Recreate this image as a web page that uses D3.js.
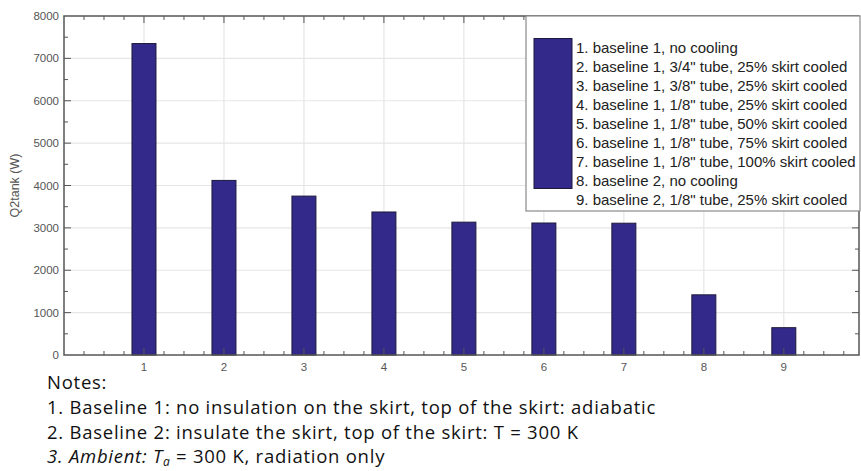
<!DOCTYPE html>
<html>
<head>
<meta charset="utf-8">
<script src="https://cdn.jsdelivr.net/npm/d3@7"></script>
<style>
  body { margin: 0; background: #fff; }
  svg { display: block; }
  .tick-label { font-family: "Liberation Sans", Arial, sans-serif; font-size: 11.5px; fill: #555; }
  .legend-text { font-family: "Liberation Sans", Arial, sans-serif; font-size: 15px; fill: #222; }
  .note { font-family: "Open Sans", sans-serif; font-size: 18.5px; letter-spacing: 0.75px; fill: #111; }
</style>
</head>
<body>
<div id="chart"></div>
<script>
// data
const cases = [1, 2, 3, 4, 5, 6, 7, 8, 9];
const q2tank = [7350, 4120, 3750, 3375, 3135, 3115, 3110, 1420, 645];
const legendLabels = [
  '1. baseline 1, no cooling',
  '2. baseline 1, 3/4" tube, 25% skirt cooled',
  '3. baseline 1, 3/8" tube, 25% skirt cooled',
  '4. baseline 1, 1/8" tube, 25% skirt cooled',
  '5. baseline 1, 1/8" tube, 50% skirt cooled',
  '6. baseline 1, 1/8" tube, 75% skirt cooled',
  '7. baseline 1, 1/8" tube, 100% skirt cooled',
  '8. baseline 2, no cooling',
  '9. baseline 2, 1/8" tube, 25% skirt cooled'
];
const yTicks = [0, 1000, 2000, 3000, 4000, 5000, 6000, 7000, 8000];
const notes = [
  'Notes:',
  '1. Baseline 1: no insulation on the skirt, top of the skirt: adiabatic',
  '2. Baseline 2: insulate the skirt, top of the skirt: T = 300 K'
];

const width = 861, height = 471,
  plotLeft = 64, plotRight = 859, plotTop = 16, plotBottom = 355,
  barColor = '#33298a', axisColor = '#555', gridColor = '#e6e6e6';

const x = d3.scaleLinear().domain([0, 9.94]).range([plotLeft, plotRight]);
const y = d3.scaleLinear().domain([0, 8000]).range([plotBottom, plotTop]);
const barW = x(0.3) - x(0);

const svg = d3.select('#chart').append('svg')
  .attr('width', width)
  .attr('height', height);

// grid
svg.append('g').selectAll('line').data(yTicks.slice(1, -1)).join('line')
  .attr('x1', plotLeft).attr('x2', plotRight)
  .attr('y1', d => y(d)).attr('y2', d => y(d))
  .attr('stroke', gridColor).attr('stroke-width', 1.2);
svg.append('g').selectAll('line').data(cases).join('line')
  .attr('x1', d => x(d)).attr('x2', d => x(d))
  .attr('y1', plotTop).attr('y2', plotBottom)
  .attr('stroke', gridColor).attr('stroke-width', 1.2);

// bars
svg.append('g').selectAll('rect').data(cases).join('rect')
  .attr('x', d => x(d) - barW / 2)
  .attr('width', barW)
  .attr('y', (d, i) => y(q2tank[i]))
  .attr('height', (d, i) => y(0) - y(q2tank[i]))
  .attr('fill', barColor)
  .attr('stroke', '#1c1a3c')
  .attr('stroke-width', 1);

// frame with ticks on all four sides
const frame = svg.append('g').attr('stroke', axisColor);
frame.append('rect')
  .attr('x', plotLeft).attr('y', plotTop)
  .attr('width', plotRight - plotLeft).attr('height', plotBottom - plotTop)
  .attr('fill', 'none').attr('stroke-width', 1.5);

const xMinor = d3.range(0.25, 9.94, 0.25);
frame.selectAll('.xt').data(xMinor).join('line')
  .attr('class', 'xt')
  .attr('x1', d => x(d)).attr('x2', d => x(d))
  .attr('y1', plotBottom).attr('y2', d => plotBottom - (d % 1 === 0 ? 7 : 4));
frame.selectAll('.xtt').data(xMinor).join('line')
  .attr('class', 'xtt')
  .attr('x1', d => x(d)).attr('x2', d => x(d))
  .attr('y1', plotTop).attr('y2', d => plotTop + (d % 1 === 0 ? 7 : 4));

const yMinor = d3.range(500, 8000, 500);
frame.selectAll('.yt').data(yMinor).join('line')
  .attr('class', 'yt')
  .attr('y1', d => y(d)).attr('y2', d => y(d))
  .attr('x1', plotLeft).attr('x2', d => plotLeft + (d % 1000 === 0 ? 7 : 4));
frame.selectAll('.ytr').data(yMinor).join('line')
  .attr('class', 'ytr')
  .attr('y1', d => y(d)).attr('y2', d => y(d))
  .attr('x1', plotRight).attr('x2', d => plotRight - (d % 1000 === 0 ? 7 : 4));

// tick labels
svg.append('g').selectAll('text').data(yTicks).join('text')
  .attr('class', 'tick-label')
  .attr('x', plotLeft - 5)
  .attr('y', d => y(d))
  .attr('dy', '0.35em')
  .attr('text-anchor', 'end')
  .text(d => d);
svg.append('g').selectAll('text').data(cases).join('text')
  .attr('class', 'tick-label')
  .attr('x', d => x(d))
  .attr('y', plotBottom + 16)
  .attr('text-anchor', 'middle')
  .text(d => d);

svg.append('text')
  .attr('class', 'tick-label')
  .attr('transform', `translate(19,${(plotTop + plotBottom) / 2}) rotate(-90)`)
  .attr('text-anchor', 'middle')
  .style('font-size', '12.5px')
  .text('Q2tank (W)');

// legend
const legend = svg.append('g');
legend.append('rect')
  .attr('x', 526).attr('y', 16)
  .attr('width', 334).attr('height', 195)
  .attr('fill', '#fff')
  .attr('stroke', '#8a8a8a')
  .attr('stroke-width', 1.2);
legend.append('rect')
  .attr('x', 534).attr('y', 38.5)
  .attr('width', 38).attr('height', 150)
  .attr('fill', barColor)
  .attr('stroke', '#1c1a3c');
legend.selectAll('.legend-text').data(legendLabels).join('text')
  .attr('class', 'legend-text')
  .attr('x', 576)
  .attr('y', (d, i) => 53 + i * 19)
  .text(d => d);

// notes under the chart
svg.append('g').selectAll('text').data(notes).join('text')
  .attr('class', 'note')
  .attr('x', 47)
  .attr('y', (d, i) => 389 + i * 25)
  .text(d => d);

const n3 = svg.append('text')
  .attr('class', 'note')
  .attr('x', 47)
  .attr('y', 389 + 3 * 25 - 1);
n3.append('tspan').style('font-style', 'italic').text('3.  Ambient: T');
n3.append('tspan').style('font-style', 'italic').attr('dy', 3).style('font-size', '12px').text('a');
n3.append('tspan').attr('dy', -3).text(' = 300 K, radiation only');
</script>
</body>
</html>
